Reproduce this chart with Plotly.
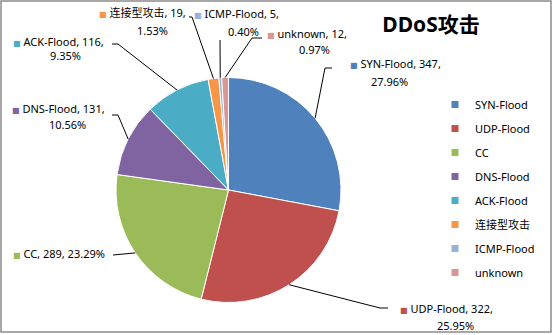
import math
import plotly.graph_objects as go

# ---- data ----
categories = ["SYN-Flood", "UDP-Flood", "CC", "DNS-Flood", "ACK-Flood", "连接型攻击", "ICMP-Flood", "unknown"]
values = [347, 322, 289, 131, 116, 19, 5, 12]
title_text = "DDoS攻击"

# ---- style ----
colors = ["#4F81BD", "#C0504D", "#9BBB59", "#8064A2", "#4BACC6", "#F79646", "#95B3D7", "#D99694"]
W, H = 553, 335
FONT = "Noto Sans, Noto Sans CJK SC, sans-serif"
CX, CY, R = 228.5, 190.0, 112.5  # pie placement in pixels

# label placement (pixels): line1 centre x, y, line2 centre x, y
label_pos = [
    (396, 63, 389, 82),
    (447, 308, 455, 325),
    (59, 253, None, None),
    (58, 109, 67, 125),
    (58, 41, 65, 56),
    (142, 12, 152, 31),
    (236, 14, 243, 32),
    (307, 33, 314, 50),
]
# leader start + elbow (pixels)
leader_pts = [
    ((332, 68), (325, 68)),
    ((388, 308), (380, 308)),
    ((113, 255), (113, 255)),
    ((112, 115), (118, 115)),
    ((112, 44), (118, 44)),
    ((189, 17), (192, 17)),
    ((220, 40), (220, 40)),
    ((262, 38), (252, 38)),
]

def px(x):
    return x / W

def py(y):
    return 1 - y / H

total = sum(values)

fig = go.Figure()
fig.add_trace(go.Pie(
    labels=categories, values=values, sort=False, direction="clockwise", rotation=0,
    marker=dict(colors=colors, line=dict(color="white", width=1)),
    textinfo="none", hoverinfo="label+value+percent", showlegend=False,
    domain=dict(x=[px(CX - R), px(CX + R)], y=[py(CY + R), py(CY - R)]),
))

# legend entries
for name, c in zip(categories, colors):
    fig.add_trace(go.Scatter(x=[None], y=[None], mode="markers", name=name, legendgroup=name,
                             marker=dict(symbol="square", size=7, color=c)))

annotations = []
shapes = []
cum = 0
for i, (name, v, c) in enumerate(zip(categories, values, colors)):
    pct = v / total * 100
    mid = (cum + v / 2) / total * 2 * math.pi
    cum += v
    ex = CX + R * math.sin(mid)
    ey = CY - R * math.cos(mid)
    sq = f'<span style="font-family:DejaVu Sans;font-size:8px;color:{c}">■</span> '
    x1, y1, x2, y2 = label_pos[i]
    if x2 is None:
        annotations.append(dict(text=f"{sq}{name}, {v}, {pct:.2f}%", x=px(x1), y=py(y1),
                                xref="paper", yref="paper", showarrow=False,
                                xanchor="center", yanchor="middle"))
    else:
        annotations.append(dict(text=f"{sq}{name}, {v},", x=px(x1), y=py(y1),
                                xref="paper", yref="paper", showarrow=False,
                                xanchor="center", yanchor="middle"))
        annotations.append(dict(text=f"{pct:.2f}%", x=px(x2), y=py(y2),
                                xref="paper", yref="paper", showarrow=False,
                                xanchor="center", yanchor="middle"))
    (sx, sy), (bx, by) = leader_pts[i]
    shapes.append(dict(type="path", xref="paper", yref="paper",
                       path=f"M {px(sx)} {py(sy)} L {px(bx)} {py(by)} L {px(ex)} {py(ey)}",
                       line=dict(color="black", width=1)))

# chart border
shapes.append(dict(type="rect", xref="paper", yref="paper", x0=px(1), x1=px(551), y0=py(332), y1=py(1),
                   line=dict(color="#8a8a8a", width=1.5), layer="below"))

fig.update_layout(
    width=W, height=H, margin=dict(l=0, r=0, t=0, b=0),
    paper_bgcolor="white", plot_bgcolor="white",
    font=dict(family=FONT, size=11, color="black"),
    title=dict(text=f"<b>{title_text}</b>", x=px(431), y=py(25), xref="paper", yref="paper",
               xanchor="center", yanchor="middle", font=dict(size=21, family=FONT, color="black")),
    xaxis=dict(visible=False), yaxis=dict(visible=False),
    legend=dict(x=px(435), y=py(90), xanchor="left", yanchor="top", traceorder="grouped",
                tracegroupgap=5, font=dict(size=11, family=FONT), bgcolor="rgba(0,0,0,0)"),
    annotations=annotations, shapes=shapes,
)

fig.write_html("out.html")
